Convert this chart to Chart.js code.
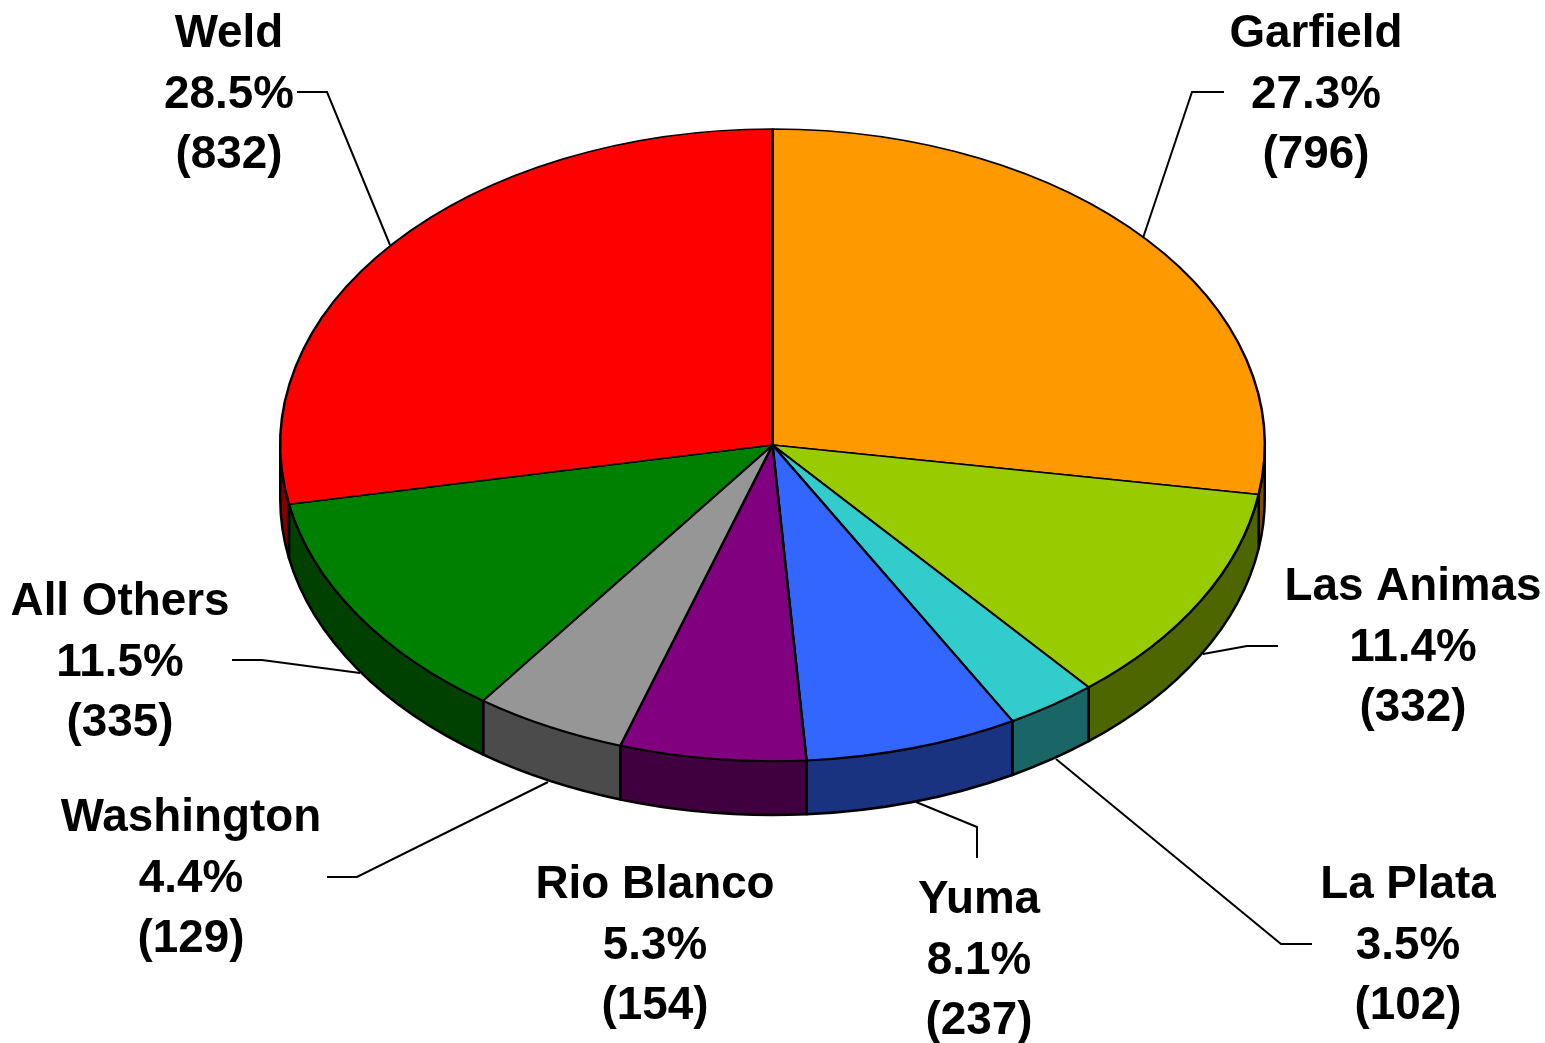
<!DOCTYPE html>
<html>
<head>
<meta charset="utf-8">
<title>Wells by county</title>
<script src="https://cdn.jsdelivr.net/npm/chart.js@4/dist/chart.umd.js"></script>
<style>
    html, body { margin: 0; padding: 0; background: #fff; }
    canvas { display: block; }
</style>
</head>
<body>
<canvas id="pieChart" width="1545" height="1043"></canvas>
<script>
// ========== DATA ==========
const counties = ['Garfield', 'Las Animas', 'La Plata', 'Yuma', 'Rio Blanco', 'Washington', 'All Others', 'Weld'];
const wellCounts = [796, 332, 102, 237, 154, 129, 335, 832];
const percents = ['27.3%', '11.4%', '3.5%', '8.1%', '5.3%', '4.4%', '11.5%', '28.5%'];
// slice sizes, the original's wedges don't quite follow its printed percents
const sliceShares = [27.5, 11.4, 3.0, 7.0, 6.1, 5.0, 12.0, 28.0];

// ========== COLORS ==========
const topColors = ['#FF9900', '#99CC00', '#33CCCC', '#3366FF', '#800080', '#969696', '#008000', '#FF0000'];
const wallColors = ['#804D00', '#4D6600', '#1A6666', '#1A3380', '#400040', '#4B4B4B', '#004000', '#800000'];

// ========== LAYOUT ==========
const PIE_CENTER_Y = 445;
const PIE_RADIUS_Y = 316;
const WALL_DEPTH = 54;
const LINE_HEIGHT = 60.5;
const labelFont = 'bold 45.8px "Liberation Sans", Arial, sans-serif';

// label centre x and first line baseline, same order as counties
const labelAnchors = [
    [1316, 47], [1413, 600], [1408, 898], [979, 913],
    [655, 898], [191, 831], [120, 615], [229, 47]
];
const leaderLines = [
    [[1224, 92], [1192, 92], [1143, 238]],
    [[1278, 646], [1247, 646], [1203, 654]],
    [[1312, 944], [1281, 944], [1056, 759]],
    [[977, 858], [977, 827], [916, 802]],
    [],
    [[327, 877], [357, 877], [548, 782]],
    [[232, 660], [262, 660], [360, 673]],
    [[297, 92], [327, 92], [390, 245]]
];

// ========== 3D PIE PLUGIN ==========
// squeezes the library's round pie into an ellipse and adds the side wall under it
const tiltedPie = {
    id: 'tiltedPie',
    beforeDatasetsDraw(chart) {
        const ctx = chart.ctx;
        const arcs = chart.getDatasetMeta(0).data;
        const cx = arcs[0].x;
        const rx = arcs[0].outerRadius;

        ctx.save();
        ctx.lineWidth = 2.5;
        ctx.strokeStyle = '#000';
        ctx.lineJoin = 'round';
        arcs.forEach((arc, i) => {
            const from = Math.max(arc.startAngle, 0);
            const to = Math.min(arc.endAngle, Math.PI);
            if (to <= from) return;
            ctx.beginPath();
            ctx.ellipse(cx, PIE_CENTER_Y, rx, PIE_RADIUS_Y, 0, from, to);
            ctx.ellipse(cx, PIE_CENTER_Y + WALL_DEPTH, rx, PIE_RADIUS_Y, 0, to, from, true);
            ctx.closePath();
            ctx.fillStyle = wallColors[i];
            ctx.fill();
            ctx.stroke();
        });
        ctx.restore();

        ctx.save();
        ctx.translate(cx, PIE_CENTER_Y);
        ctx.scale(1, PIE_RADIUS_Y / rx);
        ctx.translate(-cx, -arcs[0].y);
    },
    afterDatasetsDraw(chart) {
        const ctx = chart.ctx;
        ctx.restore();

        // ===== leader lines =====
        ctx.save();
        ctx.lineWidth = 2;
        ctx.strokeStyle = '#000';
        leaderLines.forEach(points => {
            if (!points.length) return;
            ctx.beginPath();
            points.forEach(([x, y], i) => i ? ctx.lineTo(x, y) : ctx.moveTo(x, y));
            ctx.stroke();
        });

        // ===== labels =====
        ctx.font = labelFont;
        ctx.fillStyle = '#000';
        ctx.textAlign = 'center';
        ctx.textBaseline = 'alphabetic';
        counties.forEach((name, i) => {
            const [x, y] = labelAnchors[i];
            ctx.fillText(name, x, y);
            ctx.fillText(percents[i], x, y + LINE_HEIGHT);
            ctx.fillText('(' + wellCounts[i] + ')', x, y + LINE_HEIGHT * 2);
        });
        ctx.restore();
    }
};

// ========== CHART ==========
new Chart(document.getElementById('pieChart'), {
    type: 'pie',
    data: {
        labels: counties,
        datasets: [{
            data: sliceShares,
            backgroundColor: topColors,
            borderColor: '#000',
            borderWidth: 2.5,
            borderAlign: 'center'
        }]
    },
    options: {
        responsive: false,
        animation: false,
        layout: {
            padding: { top: 28, bottom: 28 }
        },
        plugins: {
            legend: { display: false },
            tooltip: { enabled: false }
        }
    },
    plugins: [tiltedPie]
});
</script>
</body>
</html>
